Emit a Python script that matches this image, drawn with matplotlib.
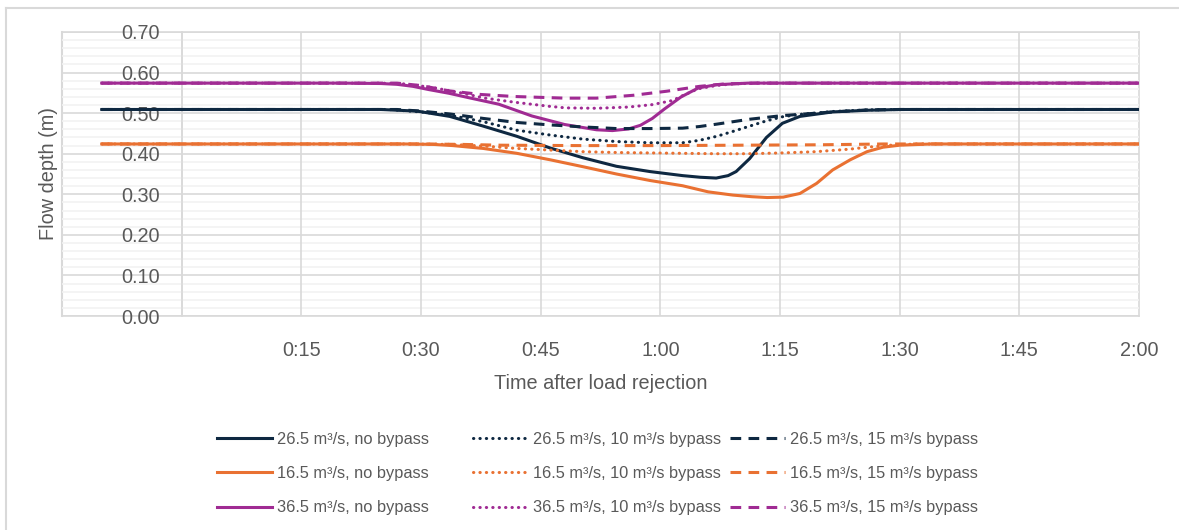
import matplotlib
matplotlib.use("Agg")
import matplotlib.pyplot as plt
import numpy as np
from matplotlib.lines import Line2D
from matplotlib.ticker import MultipleLocator, FuncFormatter

plt.rcParams['font.family'] = ['Liberation Sans', 'DejaVu Sans']

# flow depth (m) against minutes after load rejection
# 26.5 m3/s
n_nb_t = [-10, 25, 29.5, 33.6, 37.8, 42, 46.2, 50.3, 54.5, 58.7, 62.8, 65, 67, 68.5, 69.5, 71.2, 73.3, 75.3, 77.5, 81.6, 85.8, 90, 120]
n_nb_v = [0.509, 0.509, 0.505, 0.492, 0.468, 0.443, 0.414, 0.390, 0.369, 0.356, 0.346, 0.342, 0.340, 0.346, 0.356, 0.388, 0.440, 0.475, 0.492, 0.503, 0.507, 0.509, 0.509]
n_10_t = [-10, 26, 30, 33.6, 37.8, 42, 46.2, 50.3, 54.5, 58.7, 62.8, 64.9, 67.1, 69.1, 71.2, 73.3, 75.3, 77.5, 81.6, 86, 90, 120]
n_10_v = [0.509, 0.509, 0.503, 0.495, 0.479, 0.458, 0.446, 0.436, 0.430, 0.427, 0.427, 0.433, 0.443, 0.455, 0.468, 0.481, 0.491, 0.497, 0.504, 0.508, 0.509, 0.509]
n_15_t = [-10, 27, 30, 33.6, 37.8, 42, 46.2, 50.3, 54.5, 58.7, 62.8, 64.9, 67.1, 71.2, 75.3, 77.5, 81.6, 86, 90, 120]
n_15_v = [0.509, 0.509, 0.505, 0.498, 0.487, 0.477, 0.471, 0.466, 0.462, 0.462, 0.463, 0.467, 0.473, 0.485, 0.494, 0.497, 0.503, 0.508, 0.509, 0.509]

# 16.5 m3/s
o_nb_t = [-10, 28, 31.5, 34, 37.8, 42, 46.2, 50.3, 54.5, 58.7, 62.8, 66, 69.1, 71.5, 73.4, 75.4, 77.5, 79.6, 81.6, 83.8, 85.9, 87.9, 90, 94, 120]
o_nb_v = [0.424, 0.424, 0.423, 0.420, 0.413, 0.401, 0.385, 0.368, 0.350, 0.334, 0.321, 0.306, 0.298, 0.294, 0.292, 0.293, 0.302, 0.327, 0.360, 0.385, 0.405, 0.416, 0.421, 0.424, 0.424]
o_10_t = [-10, 28, 33.6, 37.8, 42, 46.2, 50.3, 54.5, 58.7, 62.8, 67, 71, 75.3, 79.5, 83.6, 87.9, 92, 120]
o_10_v = [0.424, 0.424, 0.423, 0.419, 0.413, 0.409, 0.405, 0.403, 0.402, 0.401, 0.400, 0.400, 0.402, 0.405, 0.411, 0.420, 0.424, 0.424]
o_15_t = [-10, 30, 35, 40, 50, 60, 70, 80, 88, 120]
o_15_v = [0.424, 0.424, 0.423, 0.421, 0.420, 0.420, 0.421, 0.422, 0.424, 0.424]

# 36.5 m3/s
p_nb_t = [-10, 20, 25, 27, 29, 31, 33.5, 36, 39.75, 43.9, 48, 52, 54, 56, 57.5, 59, 60.5, 62.6, 64.75, 67, 71, 120]
p_nb_v = [0.574, 0.574, 0.573, 0.571, 0.566, 0.558, 0.549, 0.538, 0.522, 0.493, 0.472, 0.459, 0.457, 0.461, 0.470, 0.487, 0.510, 0.540, 0.562, 0.570, 0.574, 0.574]
p_10_t = [-10, 25, 28, 31.5, 35, 38, 41.7, 46, 48.1, 52, 56, 59, 61.5, 63, 64.75, 67, 69, 72, 120]
p_10_v = [0.574, 0.574, 0.572, 0.563, 0.550, 0.537, 0.527, 0.517, 0.513, 0.512, 0.515, 0.521, 0.531, 0.545, 0.560, 0.568, 0.572, 0.574, 0.574]
p_15_t = [-10, 27, 30, 33.5, 37.5, 41.7, 48, 52, 56.6, 60.8, 64.9, 68, 72, 120]
p_15_v = [0.574, 0.574, 0.568, 0.555, 0.546, 0.541, 0.537, 0.537, 0.544, 0.554, 0.566, 0.572, 0.574, 0.574]

navy = '#0E2841'
orange = '#E97132'
purple = '#A02B93'
grid_major = '#D9D9D9'
grid_minor = '#F2F2F2'
txt = '#595959'

dotted = (0, (0.1, 2.0))
dashed = (0, (3.5, 2.4))

series = [
    (n_nb_t, n_nb_v, navy, '-', '26.5 m³/s, no bypass'),
    (o_nb_t, o_nb_v, orange, '-', '16.5 m³/s, no bypass'),
    (p_nb_t, p_nb_v, purple, '-', '36.5 m³/s, no bypass'),
    (n_10_t, n_10_v, navy, dotted, '26.5 m³/s, 10 m³/s bypass'),
    (o_10_t, o_10_v, orange, dotted, '16.5 m³/s, 10 m³/s bypass'),
    (p_10_t, p_10_v, purple, dotted, '36.5 m³/s, 10 m³/s bypass'),
    (n_15_t, n_15_v, navy, dashed, '26.5 m³/s, 15 m³/s bypass'),
    (o_15_t, o_15_v, orange, dashed, '16.5 m³/s, 15 m³/s bypass'),
    (p_15_t, p_15_v, purple, dashed, '36.5 m³/s, 15 m³/s bypass'),
]

fig = plt.figure(figsize=(11.79, 5.30), dpi=100)
ax = fig.add_axes([62/1179, 1-316/530, (1139-62)/1179, (316-32)/530])

# outer chart border (top and left only visible)
fig.add_artist(Line2D([5.5/1179, 1], [1-7.5/530, 1-7.5/530], color=grid_major, lw=1.5))
fig.add_artist(Line2D([5.5/1179, 5.5/1179], [0, 1-7.5/530], color=grid_major, lw=1.5))

handles = []
for t, v, c, ls, lab in series:
    ln, = ax.plot(t, v, color=c, linestyle=ls, lw=2.2, label=lab,
                  dash_capstyle='round' if ls == dotted else 'butt', zorder=3)
    handles.append(ln)

ax.set_xlim(-15, 120)
ax.set_ylim(0, 0.70)
ax.xaxis.set_major_locator(MultipleLocator(15))
ax.yaxis.set_major_locator(MultipleLocator(0.1))

def fmt_time(x, pos):
    m = int(round(x))
    if m <= 0:
        return ''
    return '%d:%02d' % (m // 60, m % 60)

ax.xaxis.set_major_formatter(FuncFormatter(fmt_time))
ax.yaxis.set_major_formatter(FuncFormatter(lambda y, p: '%.2f' % y))

# gridlines drawn by hand so the tick labels sit on top of them
ax.set_axisbelow(True)
for k, y in enumerate(np.arange(0, 0.701, 0.02)):
    ax.axhline(y, color=grid_major if k % 5 == 0 else grid_minor, lw=1.2, zorder=0.2)
for x in range(0, 120, 15):
    ax.axvline(x, color=grid_major, lw=1.2, zorder=0.3)

# value axis crosses the time axis at 0:00
ax.spines['left'].set_position(('data', 0))
for s in ['left', 'right', 'top', 'bottom']:
    ax.spines[s].set_color(grid_major)
    ax.spines[s].set_linewidth(1.2)
    ax.spines[s].set_zorder(0.1)
ax.axvline(-15, color=grid_major, lw=1.5, zorder=0.1, clip_on=False)

ax.tick_params(axis='both', which='both', length=0, labelsize=14.3, labelcolor=txt)
ax.tick_params(axis='y', pad=16)
ax.tick_params(axis='x', pad=18)

ax.set_xlabel('Time after load rejection', fontsize=14.3, color=txt, labelpad=10)
ax.set_ylabel('Flow depth (m)', fontsize=14.3, color=txt)
ax.yaxis.set_label_coords(-4/1077, 0.5)

# one legend per line style so the columns sit on an even grid
col_x = [217, 473, 730]
for i in range(3):
    fig.legend(handles=handles[i*3:i*3+3], loc='upper left',
               bbox_to_anchor=(col_x[i]/1179, 1-432/530), frameon=False,
               fontsize=11.8, labelcolor=txt, handlelength=3.35,
               handletextpad=0.3, labelspacing=1.17, borderpad=0, borderaxespad=0)

fig.savefig('out.png', dpi=100)
